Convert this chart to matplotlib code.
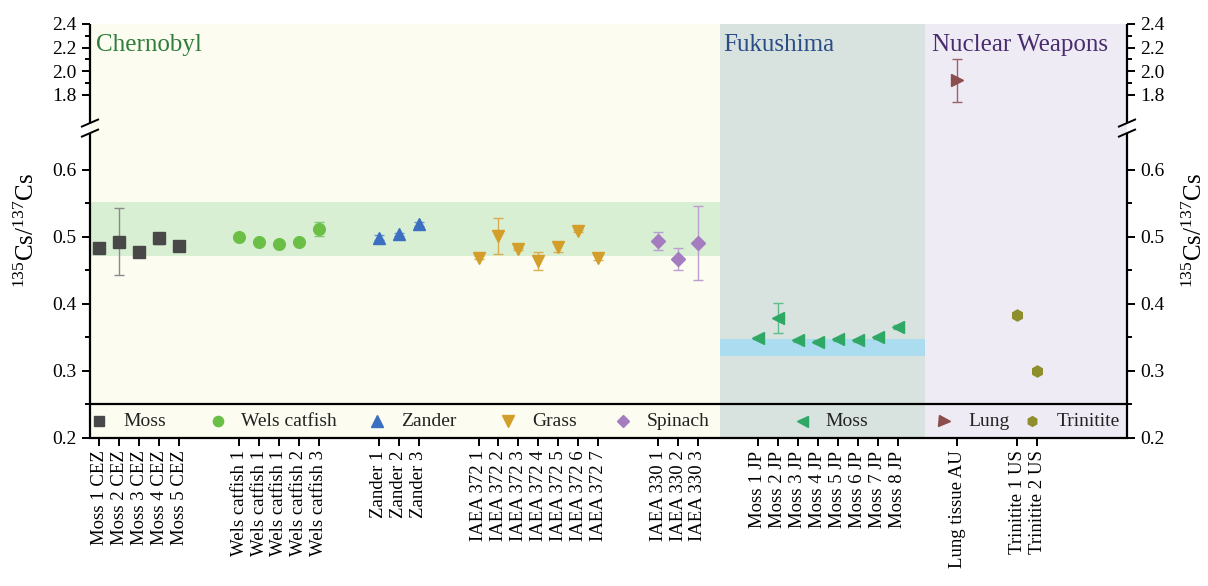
import numpy as np
import matplotlib
matplotlib.use("Agg")
import matplotlib.pyplot as plt
from matplotlib.ticker import FixedLocator, FuncFormatter

plt.rcParams["font.family"] = ["Liberation Serif", "DejaVu Serif"]
plt.rcParams["mathtext.fontset"] = "custom"
plt.rcParams["mathtext.rm"] = "Liberation Serif"
plt.rcParams["mathtext.it"] = "Liberation Serif:italic"

# ---- data ----
cez_moss_labels = ["Moss 1 CEZ", "Moss 2 CEZ", "Moss 3 CEZ", "Moss 4 CEZ", "Moss 5 CEZ"]
cez_moss_vals = [0.484, 0.493, 0.478, 0.498, 0.487]
cez_moss_err = [0.0, 0.050, 0.0, 0.008, 0.003]

wels_labels = ["Wels catfish 1", "Wels catfish 1", "Wels catfish 1", "Wels catfish 2", "Wels catfish 3"]
wels_vals = [0.500, 0.493, 0.489, 0.492, 0.512]
wels_err = [0.002, 0.0, 0.0, 0.0, 0.010]

zander_labels = ["Zander 1", "Zander 2", "Zander 3"]
zander_vals = [0.499, 0.504, 0.520]
zander_err = [0.004, 0.002, 0.003]

grass_labels = ["IAEA 372 1", "IAEA 372 2", "IAEA 372 3", "IAEA 372 4",
                "IAEA 372 5", "IAEA 372 6", "IAEA 372 7"]
grass_vals = [0.469, 0.502, 0.482, 0.464, 0.485, 0.509, 0.469]
grass_err = [0.002, 0.027, 0.002, 0.013, 0.008, 0.002, 0.004]

spinach_labels = ["IAEA 330 1", "IAEA 330 2", "IAEA 330 3"]
spinach_vals = [0.494, 0.467, 0.491]
spinach_err = [0.014, 0.017, 0.055]

jp_moss_labels = ["Moss 1 JP", "Moss 2 JP", "Moss 3 JP", "Moss 4 JP",
                  "Moss 5 JP", "Moss 6 JP", "Moss 7 JP", "Moss 8 JP"]
jp_moss_vals = [0.349, 0.379, 0.346, 0.344, 0.347, 0.346, 0.350, 0.366]
jp_moss_err = [0.002, 0.023, 0.002, 0.002, 0.002, 0.002, 0.002, 0.003]

lung_labels = ["Lung tissue AU"]
lung_vals = [1.922]
lung_err = [0.185]

trin_labels = ["Trinitite 1 US", "Trinitite 2 US"]
trin_vals = [0.384, 0.300]
trin_err = [0.002, 0.002]

chernobyl_band = (0.471, 0.552)
fukushima_band = (0.322, 0.347)

# (legend name, labels, values, errors, marker, size, color, error color)
series = [
    ("Moss", cez_moss_labels, cez_moss_vals, cez_moss_err, "s", 8.8, "#484848", "#8a8a8a"),
    ("Wels catfish", wels_labels, wels_vals, wels_err, "o", 8.4, "#6cbf46", "#86c96a"),
    ("Zander", zander_labels, zander_vals, zander_err, "^", 9.2, "#3b6fc1", "#6f93d0"),
    ("Grass", grass_labels, grass_vals, grass_err, "v", 9.2, "#d39e2a", "#d9ac4f"),
    ("Spinach", spinach_labels, spinach_vals, spinach_err, "D", 6.8, "#a67cc0", "#bc9dd0"),
    ("Moss", jp_moss_labels, jp_moss_vals, jp_moss_err, "<", 9.0, "#2fa866", "#5fbd8a"),
    ("Lung", lung_labels, lung_vals, lung_err, ">", 9.0, "#8b4d4d", "#9a6363"),
    ("Trinitite", trin_labels, trin_vals, trin_err, "h", 8.0, "#8e8e2c", "#8e8e2c"),
]

# ---- broken y scale ----
LOW_TOP, HIGH_BOT = 0.655, 1.56
K = 0.176
GAP = 0.015


def fwd(y):
    y = np.asarray(y, dtype=float)
    mid = LOW_TOP + (y - LOW_TOP) * GAP / (HIGH_BOT - LOW_TOP)
    hi = LOW_TOP + GAP + (y - HIGH_BOT) * K
    return np.where(y <= LOW_TOP, y, np.where(y >= HIGH_BOT, hi, mid))


def inv(u):
    u = np.asarray(u, dtype=float)
    mid = LOW_TOP + (u - LOW_TOP) * (HIGH_BOT - LOW_TOP) / GAP
    hi = HIGH_BOT + (u - LOW_TOP - GAP) / K
    return np.where(u <= LOW_TOP, u, np.where(u >= LOW_TOP + GAP, hi, mid))


fig = plt.figure(figsize=(12.08, 5.86), dpi=100)
ax = fig.add_axes([90 / 1208, 148 / 586, 1037 / 1208, 414 / 586])
ax.set_yscale("function", functions=(fwd, inv))
ax.set_xlim(-0.47, 51.5)
ax.set_ylim(0.2, 2.4)

# positions: groups separated by two empty slots
positions, tick_labels = [], []
start = 0
group_x = []
for s in series:
    xs = list(range(start, start + len(s[1])))
    group_x.append(xs)
    positions += xs
    tick_labels += s[1]
    start = xs[-1] + 3

# region backgrounds
CH_END, FU_END = 31.1, 41.4
ax.axvspan(-0.47, CH_END, color="#fcfdf0", zorder=0, lw=0)
ax.axvspan(CH_END, FU_END, color="#d8e2df", zorder=0, lw=0)
ax.axvspan(FU_END, 51.5, color="#eeebf5", zorder=0, lw=0)
ax.fill_between([-0.47, CH_END], *chernobyl_band, color="#d9efd4", lw=0, zorder=0.5)
ax.fill_between([CH_END, FU_END], *fukushima_band, color="#acdcf0", lw=0, zorder=0.5)

ax.text(-0.15, 2.22, "Chernobyl", color="#2f7d3a", fontsize=18, va="center", ha="left")
ax.text(31.25, 2.22, "Fukushima", color="#2a4d86", fontsize=18, va="center", ha="left")
ax.text(41.75, 2.22, "Nuclear Weapons", color="#4a2c6e", fontsize=18, va="center", ha="left")

for (name, labels, vals, errs, mk, ms, col, ecol), xs in zip(series, group_x):
    ax.errorbar(xs, vals, yerr=errs, fmt="none", ecolor=ecol, elinewidth=1.0,
                capsize=3.5, capthick=1.0, zorder=3)
    ax.plot(xs, vals, ls="none", marker=mk, ms=ms, color=col, mec=col, zorder=4)

# legend strip between 0.2 and 0.25
ax.axhline(0.25, color="black", lw=1.6, zorder=5)
legend_x = [0.0, 5.92, 13.93, 20.48, 26.25, 35.2, 42.33, 46.76]
for (name, labels, vals, errs, mk, ms, col, ecol), lx in zip(series, legend_x):
    ax.plot([lx], [0.225], ls="none", marker=mk, ms=ms * 0.88, color=col, zorder=4)
    ax.text(lx + 1.2, 0.2245, name, fontsize=14, va="center", ha="left", color="#222222")

# axes, ticks
ax.spines["top"].set_visible(False)
ax.spines["left"].set_visible(False)
ax.spines["right"].set_visible(False)
ax.spines["bottom"].set_linewidth(1.6)

ytr = ax.get_yaxis_transform()
for xs in (0, 1):
    ax.plot([xs, xs], [0.2, LOW_TOP], transform=ytr, color="black", lw=1.6,
            clip_on=False, zorder=6, solid_capstyle="butt")
    ax.plot([xs, xs], [HIGH_BOT, 2.4], transform=ytr, color="black", lw=1.6,
            clip_on=False, zorder=6, solid_capstyle="butt")

span = fwd(2.4) - fwd(0.2)
for yb in (LOW_TOP, HIGH_BOT):
    f = float((fwd(yb) - fwd(0.2)) / span)
    for xs in (0, 1):
        ax.plot([xs - 0.0078, xs + 0.0078], [f - 0.0085, f + 0.0085],
                transform=ax.transAxes, color="black", lw=1.4, clip_on=False, zorder=7)

ax.yaxis.set_major_locator(FixedLocator([0.2, 0.3, 0.4, 0.5, 0.6, 1.8, 2.0, 2.2, 2.4]))
ax.yaxis.set_minor_locator(FixedLocator([0.25, 0.35, 0.45, 0.55, 1.9, 2.1, 2.3]))
ax.yaxis.set_major_formatter(FuncFormatter(lambda v, p: f"{v:.1f}"))
ax.yaxis.set_minor_formatter(FuncFormatter(lambda v, p: ""))
ax.tick_params(axis="y", which="both", left=True, right=True, labelleft=True,
               labelright=True, direction="out", labelsize=14, width=1.4)
ax.tick_params(axis="y", which="major", length=6)
ax.tick_params(axis="y", which="minor", length=3.5)

ax.set_xticks(positions)
ax.set_xticklabels(tick_labels, rotation=90, fontsize=13.5)
ax.tick_params(axis="x", direction="out", length=6, width=1.4, pad=3)

ylab = r"$^{135}$Cs/$^{137}$Cs"
ax.text(-0.061, 0.5, ylab, transform=ax.transAxes, rotation=90, fontsize=18,
        va="center", ha="center")
ax.text(1.0655, 0.5, ylab, transform=ax.transAxes, rotation=90, fontsize=18,
        va="center", ha="center")

fig.savefig("out.png", dpi=100)
